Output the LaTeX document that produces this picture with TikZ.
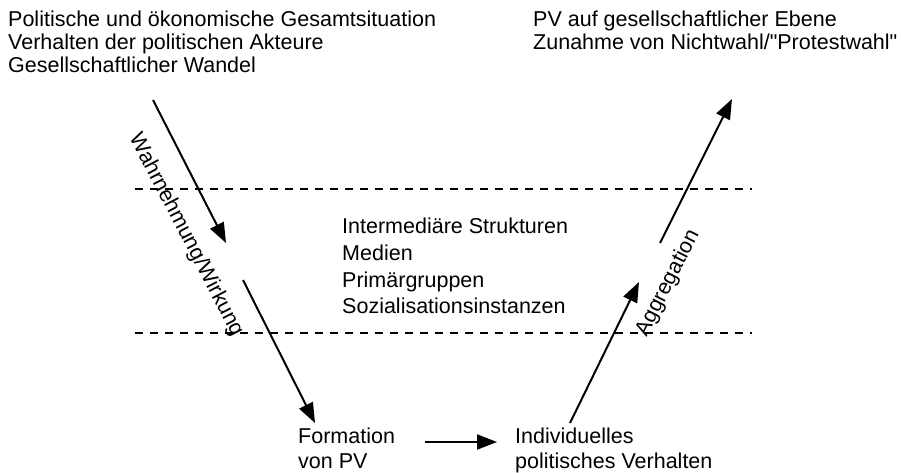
\documentclass[tikz,border=0pt]{standalone}
\usepackage{fontspec}
\setmainfont{Liberation Sans}[Ligatures=TeXOff]
\usetikzlibrary{arrows.meta}

\begin{document}
\begin{tikzpicture}[x=1pt,y=-1pt,
  lbl/.style={anchor=base west,inner sep=0pt,font=\fontsize{21.5}{24}\selectfont},
  rlbl/.style={inner sep=0pt,font=\fontsize{21.5}{24}\selectfont},
  flow/.style={line width=2pt,-{Triangle[length=20pt,width=15pt]}},
  level/.style={line width=1.1pt,dash pattern=on 8pt off 7pt}]
\useasboundingbox (0,0) rectangle (901,473);

% macro level: situation and outcome
\node[lbl] (s1) at (8,27) {Politische und ökonomische Gesamtsituation};
\node[lbl] (s2) at (8,50) {Verhalten der politischen Akteure};
\node[lbl] (s3) at (8,73) {Gesellschaftlicher Wandel};
\node[lbl] (o1) at (533,27) {PV auf gesellschaftlicher Ebene};
\node[lbl] (o2) at (533,50) {Zunahme von Nichtwahl/"Protestwahl"};

% intermediate level
\node[lbl] (m1) at (342,233) {Intermediäre Strukturen};
\node[lbl] (m2) at (342,260) {Medien};
\node[lbl] (m3) at (342,287) {Primärgruppen};
\node[lbl] (m4) at (342,313) {Sozialisationsinstanzen};

% individual level
\node[lbl] (f1) at (298,443) {Formation};
\node[lbl] (f2) at (298,468) {von PV};
\node[lbl] (i1) at (515,443) {Individuelles};
\node[lbl] (i2) at (515,468) {politisches Verhalten};

% level boundaries
\coordinate (u1) at (135,189); \coordinate (u2) at (752,189);
\coordinate (l1) at (135,333); \coordinate (l2) at (752,333);
\draw[level] (u1) -- (u2);
\draw[level] (l1) -- (l2);

% arrow end points
\coordinate (a1s) at (153,100); \coordinate (a1e) at (226,243);
\coordinate (a2s) at (243,280); \coordinate (a2e) at (315,423);
\coordinate (a3s) at (425,442); \coordinate (a3e) at (497,442);
\coordinate (a4s) at (570,423); \coordinate (a4e) at (639,282);
\coordinate (a5s) at (660,243); \coordinate (a5e) at (732,99);

\draw[flow] (a1s) -- (a1e);
\draw[flow] (a2s) -- (a2e);
\draw[flow] (a3s) -- (a3e);
\draw[flow] (a4s) -- (a4e);
\draw[flow] (a5s) -- (a5e);

% arrow labels
\node[rlbl,rotate=-62.5] (w) at (186,235) {Wahrnehmung/Wirkung};
\node[rlbl,rotate=63] (g) at (668,283) {Aggregation};
\end{tikzpicture}
\end{document}
